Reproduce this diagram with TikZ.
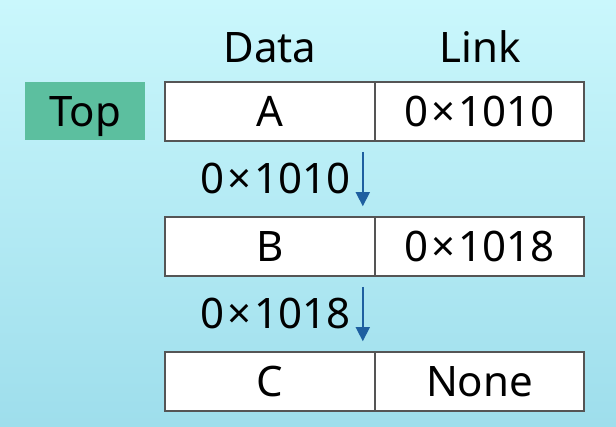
\documentclass[tikz,border=0pt]{standalone}
\usepackage{fontspec}
\setmainfont{Noto Sans}
\usetikzlibrary{arrows.meta}
\definecolor{bgtop}{RGB}{202,247,252}
\definecolor{bgbot}{RGB}{158,222,236}
\definecolor{topfill}{RGB}{92,191,159}
\definecolor{cellline}{RGB}{85,85,85}
\definecolor{arrblue}{RGB}{30,95,160}
\newcommand\tms{\kern3pt×\kern3pt}
\begin{document}
\begin{tikzpicture}[x=1pt,y=-1pt,
  font=\fontsize{42}{48}\selectfont,
  cell/.style={draw=cellline,line width=1.6pt,fill=white,inner sep=0pt,
    minimum height=59pt,text height=30pt,text depth=0pt},
  dcell/.style={cell,minimum width=210pt},
  lcell/.style={cell,minimum width=209pt},
  topbox/.style={fill=topfill,inner sep=0pt,minimum width=120pt,minimum height=58pt,text height=30pt,text depth=0pt},
  hdr/.style={inner sep=0pt,anchor=base},
  addr/.style={inner sep=0pt,anchor=base east},
  arr/.style={draw=arrblue,line width=1.6pt,-{Triangle[length=14pt,width=14pt]}}]
\useasboundingbox (0,0) rectangle (616,426);
\shade[top color=bgtop,bottom color=bgbot] (0,0) rectangle (616,426);
% headers
\node[hdr] (hdata) at (270,62) {Data};
\node[hdr] (hlink) at (480,62) {Link};
% top label
\node[topbox] (top) at (85,111) {Top};
% rows
\node[dcell] (dA) at (270,111.5) {A};
\node[lcell] (lA) at (479.5,111.5) {0\tms1010};
\node[dcell] (dB) at (270,246.5) {B};
\node[lcell] (lB) at (479.5,246.5) {0\tms1018};
\node[dcell] (dC) at (270,381.5) {C};
\node[lcell] (lC) at (479.5,381.5) {None};
% arrows
\draw[arr] ([xshift=-13pt,yshift=-10pt]dA.south east) -- ([xshift=-13pt,yshift=10pt]dB.north east);
\draw[arr] ([xshift=-13pt,yshift=-10pt]dB.south east) -- ([xshift=-13pt,yshift=10pt]dC.north east);
% address labels
\node[addr] (aB) at (351,193) {0\tms1010};
\node[addr] (aC) at (351,328) {0\tms1018};
\end{tikzpicture}
\end{document}
